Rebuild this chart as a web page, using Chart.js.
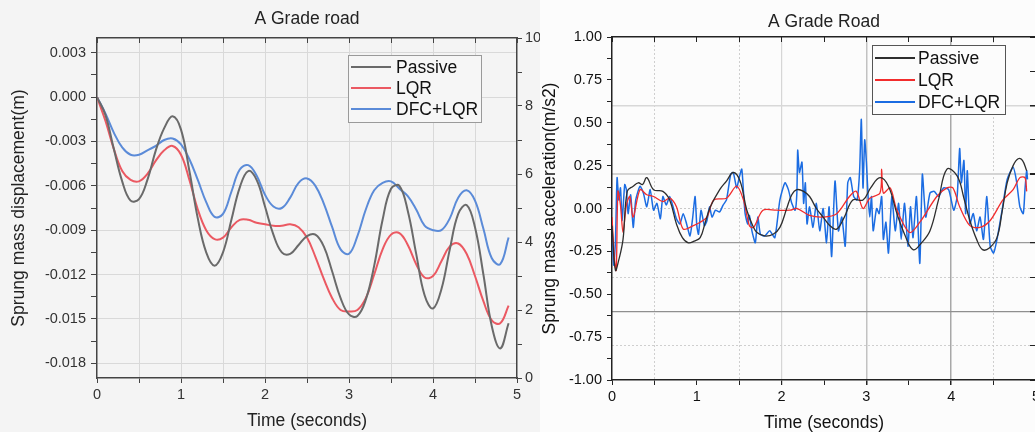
<!DOCTYPE html>
<html>
<head>
<meta charset="utf-8">
<script src="https://cdn.jsdelivr.net/npm/chart.js@4.4.1/dist/chart.umd.min.js"></script>
<style>
  html, body { margin: 0; padding: 0; width: 1035px; height: 432px; overflow: hidden; background: #fff; }
  canvas { display: block; }
  #leftBox { position: absolute; left: 0; top: 0; width: 541px; height: 432px; overflow: hidden; background: #f4f4f4; }
  #rightBox { position: absolute; left: 540px; top: 0; width: 495px; height: 432px; overflow: hidden; background: #fcfcfc; }
</style>
</head>
<body>
<div id="leftBox"><canvas id="dispChart" width="545" height="432"></canvas></div>
<div id="rightBox"><canvas id="accChart" width="533" height="434"></canvas></div>
<script>
const FONT = "'Liberation Sans', Arial, sans-serif";
Chart.defaults.font.family = FONT;

// ---- left panel: sprung mass displacement (m), sampled every 0.1 s
const dispTime = [0, 0.1, 0.2, 0.3, 0.4, 0.5, 0.6, 0.7, 0.8, 0.9,
  1.0, 1.1, 1.2, 1.3, 1.4, 1.5, 1.6, 1.7, 1.8, 1.9,
  2.0, 2.1, 2.2, 2.3, 2.4, 2.5, 2.6, 2.7, 2.8, 2.9,
  3.0, 3.1, 3.2, 3.3, 3.4, 3.5, 3.6, 3.7, 3.8, 3.9,
  4.0, 4.1, 4.2, 4.3, 4.4, 4.5, 4.6, 4.7, 4.8, 4.9];
const dispPassive = [0, -0.0012, -0.0035, -0.0057, -0.0070, -0.0069, -0.0056, -0.0036, -0.0021, -0.0013,
  -0.0022, -0.0050, -0.0082, -0.0105, -0.0114, -0.0105, -0.0083, -0.0061, -0.0050, -0.0056,
  -0.0074, -0.0093, -0.0105, -0.0106, -0.0100, -0.0094, -0.0093, -0.0101, -0.0118, -0.0136,
  -0.0147, -0.0148, -0.0137, -0.0114, -0.0083, -0.0062, -0.0060, -0.0077, -0.0106, -0.0134,
  -0.0143, -0.0130, -0.0103, -0.0079, -0.0073, -0.0088, -0.0120, -0.0155, -0.0170, -0.0153];
const dispLQR = [0, -0.0016, -0.0035, -0.0050, -0.0056, -0.0057, -0.0052, -0.0043, -0.0036, -0.0033,
  -0.0039, -0.0056, -0.0076, -0.0090, -0.0096, -0.0095, -0.0088, -0.0083, -0.0083, -0.0085,
  -0.0086, -0.0087, -0.0087, -0.0086, -0.0088, -0.0095, -0.0108, -0.0123, -0.0136, -0.0144,
  -0.0145, -0.0144, -0.0136, -0.0120, -0.0103, -0.0093, -0.0092, -0.0100, -0.0113, -0.0122,
  -0.0121, -0.0111, -0.0101, -0.0099, -0.0106, -0.0121, -0.0138, -0.0151, -0.0153, -0.0141];
const dispDFC = [0, -0.0011, -0.0024, -0.0034, -0.0039, -0.0039, -0.0036, -0.0033, -0.0029, -0.0028,
  -0.0032, -0.0042, -0.0056, -0.0071, -0.0081, -0.0079, -0.0064, -0.0049, -0.0046, -0.0053,
  -0.0066, -0.0074, -0.0075, -0.0068, -0.0058, -0.0055, -0.0060, -0.0072, -0.0088, -0.0103,
  -0.0106, -0.0094, -0.0076, -0.0063, -0.0058, -0.0057, -0.0062, -0.0067, -0.0076, -0.0087,
  -0.0090, -0.0090, -0.0082, -0.0068, -0.0063, -0.0070, -0.0089, -0.0109, -0.0113, -0.0095];
const dispYTicks = [-0.018, -0.0165, -0.015, -0.0135, -0.012, -0.0105, -0.009, -0.0075,
  -0.006, -0.0045, -0.003, -0.0015, 0, 0.0015, 0.003];

// ---- right panel: sprung mass acceleration (m/s2)
const accPassiveTime = [0, 0.04, 0.08, 0.13, 0.18, 0.25, 0.31, 0.36, 0.41, 0.49,
  0.60, 0.68, 0.76, 0.83, 0.90, 0.97, 1.04, 1.10, 1.16, 1.27,
  1.35, 1.43, 1.51, 1.59, 1.66, 1.71, 1.80, 1.90, 1.98, 2.06,
  2.12, 2.18, 2.26, 2.33, 2.41, 2.49, 2.57, 2.65, 2.74, 2.84,
  2.96, 3.05, 3.16, 3.26, 3.36, 3.45, 3.55, 3.65, 3.75, 3.85,
  3.95, 4.07, 4.15, 4.22, 4.30, 4.37, 4.45, 4.54, 4.60, 4.66,
  4.73, 4.79, 4.84, 4.89];
const accPassive = [-0.10, -0.36, -0.30, -0.18, 0.10, 0.13, 0.15, 0.14, 0.18, 0.11,
  0.10, 0.05, -0.09, -0.17, -0.20, -0.19, -0.17, -0.08, 0.01, 0.11,
  0.16, 0.21, 0.16, -0.01, -0.10, -0.14, -0.16, -0.15, -0.11, 0.00,
  0.08, 0.11, 0.10, 0.07, 0.00, -0.05, -0.10, -0.12, -0.05, 0.05,
  0.05, 0.12, 0.18, 0.13, -0.03, -0.15, -0.24, -0.20, -0.13, 0.05,
  0.23, 0.19, 0.06, -0.07, -0.18, -0.24, -0.23, -0.17, -0.02, 0.15,
  0.25, 0.29, 0.28, 0.22];

const accLQRTime = [0, 0.03, 0.05, 0.07, 0.10, 0.13, 0.17, 0.21, 0.25, 0.33,
  0.41, 0.49, 0.60, 0.68, 0.76, 0.84, 0.96, 1.04, 1.12, 1.20,
  1.35, 1.47, 1.55, 1.62, 1.67, 1.78, 1.94, 2.10, 2.18, 2.33,
  2.49, 2.65, 2.80, 2.88, 2.96, 3.04, 3.16, 3.18, 3.20, 3.28,
  3.36, 3.51, 3.63, 3.83, 3.95, 4.02, 4.10, 4.22, 4.34, 4.46,
  4.61, 4.73, 4.81, 4.87, 4.89];
const accLQR = [-0.05, -0.30, -0.36, 0.10, 0.02, -0.14, 0.02, 0.07, -0.05, 0.11,
  0.08, 0.07, 0.04, 0.06, 0.01, -0.12, -0.10, -0.08, -0.05, 0.05,
  0.06, 0.13, 0.05, -0.10, -0.11, -0.01, -0.01, -0.01, 0.00, -0.04,
  -0.05, -0.03, 0.07, 0.10, 0.00, 0.06, 0.09, 0.23, 0.09, 0.12,
  -0.01, -0.14, -0.08, 0.07, 0.12, 0.12, 0.01, -0.10, -0.11, -0.07,
  0.05, 0.11, 0.18, 0.18, 0.10];

const accDFCTime = [0, 0.02, 0.04, 0.06, 0.08, 0.10, 0.12, 0.15, 0.17, 0.19,
  0.22, 0.25, 0.28, 0.33, 0.37, 0.41, 0.45, 0.49, 0.53, 0.57,
  0.60, 0.64, 0.68, 0.72, 0.76, 0.80, 0.84, 0.88, 0.92, 0.95,
  0.98, 1.00, 1.02, 1.05, 1.09, 1.12, 1.15, 1.18, 1.22, 1.27,
  1.31, 1.35, 1.40, 1.43, 1.47, 1.50, 1.53, 1.55, 1.57, 1.60,
  1.62, 1.65, 1.69, 1.72, 1.75, 1.80, 1.86, 1.92, 1.98, 2.04,
  2.08, 2.12, 2.16, 2.18, 2.19, 2.21, 2.24, 2.26, 2.28, 2.30,
  2.33, 2.37, 2.41, 2.45, 2.49, 2.53, 2.56, 2.59, 2.63, 2.67,
  2.71, 2.75, 2.78, 2.81, 2.85, 2.89, 2.92, 2.94, 2.96, 2.98,
  3.00, 3.02, 3.04, 3.06, 3.08, 3.12, 3.15, 3.18, 3.20, 3.23,
  3.26, 3.30, 3.34, 3.38, 3.41, 3.45, 3.49, 3.52, 3.55, 3.59,
  3.63, 3.66, 3.70, 3.75, 3.80, 3.85, 3.91, 3.97, 4.03, 4.07,
  4.10, 4.12, 4.15, 4.17, 4.19, 4.22, 4.26, 4.30, 4.34, 4.38,
  4.42, 4.46, 4.50, 4.54, 4.60, 4.66, 4.73, 4.77, 4.81, 4.85,
  4.87, 4.89, 4.90];
const accDFC = [-0.10, -0.33, -0.20, 0.18, 0.05, 0.12, -0.07, 0.14, 0.11, -0.03,
  0.08, -0.11, 0.05, 0.13, 0.09, 0.01, 0.11, -0.01, 0.03, -0.06,
  0.07, 0.02, 0.07, 0.01, -0.06, -0.09, -0.03, -0.09, -0.16, -0.06,
  0.07, -0.10, -0.15, -0.01, -0.10, -0.07, 0.01, -0.05, -0.01, -0.02,
  0.02, 0.05, 0.20, 0.21, 0.12, 0.18, 0.23, 0.10, -0.03, -0.09,
  -0.04, -0.13, -0.20, -0.05, -0.15, -0.16, -0.13, -0.17, 0.05, 0.15,
  0.11, 0.03, -0.01, 0.09, 0.34, 0.21, 0.27, 0.03, 0.15, -0.09,
  0.01, -0.11, 0.03, -0.13, 0.00, -0.20, 0.01, -0.28, 0.16, -0.13,
  -0.05, -0.22, 0.15, 0.18, 0.07, 0.05, 0.22, 0.52, 0.12, 0.40,
  0.27, 0.07, -0.05, 0.07, -0.13, 0.00, -0.03, 0.07, -0.18, -0.08,
  -0.26, 0.07, -0.13, 0.03, -0.18, 0.03, -0.22, 0.01, -0.17, 0.07,
  -0.32, 0.20, -0.05, 0.09, 0.10, 0.07, 0.12, 0.11, -0.01, 0.07,
  0.35, 0.15, 0.28, -0.03, 0.22, -0.09, -0.03, -0.13, -0.05, -0.18,
  0.07, -0.22, -0.26, -0.18, -0.01, 0.17, 0.24, 0.16, 0.01, -0.03,
  0.11, 0.22, 0.17];
const accYTicks = [-1, -0.875, -0.75, -0.625, -0.5, -0.375, -0.25, -0.125, 0,
  0.125, 0.25, 0.375, 0.5, 0.625, 0.75, 0.875, 1];

const timeTicks = [0, 0.5, 1, 1.5, 2, 2.5, 3, 3.5, 4, 4.5, 5];
const sideTicks = [0, 1, 2, 3, 4, 5, 6, 7, 8, 9, 10];
const seriesNames = ['Passive', 'LQR', 'DFC+LQR'];

const pairs = (xs, ys) => xs.map((x, i) => ({ x: x, y: ys[i] }));
const useTicks = list => scale => { scale.ticks = list.map(v => ({ value: v })); };
const clear = 'rgba(0,0,0,0)';
const tickFont = { family: FONT, size: 14.5 };
const labelFont = { family: FONT, size: 17.5 };

// title above the plot and a boxed legend, drawn on the canvas
function decor(cfg) {
  return {
    id: 'decor',
    afterDraw(chart) {
      const { ctx, chartArea } = chart;
      ctx.save();
      ctx.font = '17.5px ' + FONT;
      ctx.fillStyle = '#222';
      ctx.textAlign = 'center';
      ctx.textBaseline = 'middle';
      ctx.fillText(cfg.title, (chartArea.left + chartArea.right) / 2, cfg.titleY);

      const L = cfg.legend;
      ctx.fillStyle = L.fill;
      ctx.fillRect(L.x, L.y, L.w, L.h);
      ctx.strokeStyle = L.edge;
      ctx.lineWidth = 1;
      ctx.strokeRect(L.x + 0.5, L.y + 0.5, L.w, L.h);
      ctx.textAlign = 'left';
      chart.data.datasets.forEach((ds, i) => {
        const y = L.y + L.first + i * L.gap;
        ctx.strokeStyle = ds.borderColor;
        ctx.lineWidth = 2;
        ctx.beginPath();
        ctx.moveTo(L.x + 3, y);
        ctx.lineTo(L.x + 3 + L.sample, y);
        ctx.stroke();
        ctx.fillStyle = '#111';
        ctx.fillText(ds.label, L.x + L.textX, y + 1);
      });
      ctx.restore();
    }
  };
}

// ---------------- left chart
new Chart(document.getElementById('dispChart'), {
  type: 'line',
  data: {
    datasets: [
      { label: seriesNames[0], data: pairs(dispTime, dispPassive), borderColor: '#6a6a6a' },
      { label: seriesNames[1], data: pairs(dispTime, dispLQR), borderColor: '#eb5962' },
      { label: seriesNames[2], data: pairs(dispTime, dispDFC), borderColor: '#5b8bd8' }
    ]
  },
  options: {
    responsive: false,
    animation: false,
    devicePixelRatio: 1,
    layout: { padding: { top: 38 } },
    elements: { point: { radius: 0 }, line: { borderWidth: 2, tension: 0.4 } },
    plugins: { legend: { display: false }, tooltip: { enabled: false } },
    scales: {
      x: {
        type: 'linear', position: 'bottom', min: 0, max: 5,
        afterBuildTicks: useTicks(timeTicks),
        afterFit: s => { s.height = 54; },
        ticks: { font: tickFont, color: '#333', padding: 3, maxRotation: 0, autoSkip: false,
          callback: v => Number.isInteger(v) ? String(v) : '' },
        grid: { color: c => (c.tick.value > 0 && c.tick.value < 5) ? '#d9d9d9' : clear,
          tickColor: '#444', tickLength: 5 },
        border: { color: '#444', width: 1.5 },
        title: { display: true, text: 'Time (seconds)', font: labelFont, color: '#222', padding: 0 }
      },
      xTop: {
        type: 'linear', position: 'top', min: 0, max: 5,
        afterBuildTicks: useTicks(timeTicks),
        afterFit: s => { s.height = 0; },
        ticks: { display: false },
        grid: { drawOnChartArea: false, tickColor: '#444', tickLength: -5 },
        border: { color: '#444', width: 1.5 }
      },
      y: {
        type: 'linear', position: 'left', min: -0.019, max: 0.004,
        afterBuildTicks: useTicks(dispYTicks),
        afterFit: s => { s.width = 97; },
        ticks: { font: tickFont, color: '#333', padding: 5, autoSkip: false,
          callback: v => (Math.round(v / 0.0015) % 2 === 0) ? v.toFixed(3) : '' },
        grid: { color: c => (Math.round(c.tick.value / 0.0015) % 2 === 0) ? '#d9d9d9' : clear,
          tickColor: '#444', tickLength: 6 },
        border: { color: '#444', width: 1.5 },
        title: { display: true, text: 'Sprung mass displacement(m)', font: labelFont, color: '#222',
          padding: { top: 9, bottom: 0 } }
      },
      ySide: {
        type: 'linear', position: 'right', min: 0, max: 10,
        afterBuildTicks: useTicks(sideTicks),
        afterFit: s => { s.width = 28; },
        ticks: { font: tickFont, color: '#333', padding: 3, autoSkip: false,
          callback: v => v % 2 === 0 ? String(v) : '' },
        grid: { drawOnChartArea: false, tickColor: '#444', tickLength: 5 },
        border: { color: '#444', width: 1.5 }
      }
    }
  },
  plugins: [decor({
    title: 'A Grade road', titleY: 19,
    legend: { x: 348, y: 55, w: 133, h: 67, first: 12, gap: 21, sample: 40, textX: 48,
      fill: '#f6f6f6', edge: '#9a9a9a' }
  })]
});

// ---------------- right chart
const sideGrid = {
  1: { color: '#cfcfcf', width: 1, dash: [2, 2] },
  2: { color: '#8f8f8f', width: 1.2, dash: [] },
  3: { color: '#cfcfcf', width: 1, dash: [2, 2] },
  4: { color: '#9a9a9a', width: 1.2, dash: [] },
  5: { color: '#c8c8c8', width: 1, dash: [2, 2] },
  6: { color: '#d4d4d4', width: 2, dash: [] },
  8: { color: '#d8d8d8', width: 1.5, dash: [] }
};
const timeGrid = {
  0.5: { color: '#cfcfcf', width: 1, dash: [2, 2] },
  1.5: { color: '#cfcfcf', width: 1, dash: [2, 2] },
  2: { color: '#d6d6d6', width: 1.2, dash: [] },
  3: { color: '#c2c2c2', width: 1.5, dash: [] },
  4: { color: '#a8a8a8', width: 1.5, dash: [] },
  4.5: { color: '#cfcfcf', width: 1, dash: [2, 2] }
};
const gridStyle = (table, key) => c => {
  if (!c.tick) return key === 'dash' ? [] : undefined;
  const s = table[c.tick.value];
  if (!s) return key === 'color' ? clear : (key === 'dash' ? [] : 1);
  return s[key];
};

new Chart(document.getElementById('accChart'), {
  type: 'line',
  data: {
    datasets: [
      { label: seriesNames[0], data: pairs(accPassiveTime, accPassive), borderColor: '#2e2e2e',
        borderWidth: 1.3, tension: 0.4 },
      { label: seriesNames[1], data: pairs(accLQRTime, accLQR), borderColor: '#f22c2c',
        borderWidth: 1.3, tension: 0.3 },
      { label: seriesNames[2], data: pairs(accDFCTime, accDFC), borderColor: '#1b6ce2',
        borderWidth: 1.5, tension: 0.2 }
    ]
  },
  options: {
    responsive: false,
    animation: false,
    devicePixelRatio: 1,
    layout: { padding: { top: 37 } },
    elements: { point: { radius: 0 } },
    plugins: { legend: { display: false }, tooltip: { enabled: false } },
    scales: {
      x: {
        type: 'linear', position: 'bottom', min: 0, max: 5,
        afterBuildTicks: useTicks(timeTicks),
        afterFit: s => { s.height = 54; },
        ticks: { font: tickFont, color: '#111', padding: 3, maxRotation: 0, autoSkip: false,
          callback: v => Number.isInteger(v) ? String(v) : '' },
        grid: { color: gridStyle(timeGrid, 'color'), lineWidth: gridStyle(timeGrid, 'width'),
          tickColor: '#222', tickLength: 5 },
        border: { color: '#222', width: 1.5, dash: gridStyle(timeGrid, 'dash') },
        title: { display: true, text: 'Time (seconds)', font: labelFont, color: '#111', padding: 0 }
      },
      xTop: {
        type: 'linear', position: 'top', min: 0, max: 5,
        afterBuildTicks: useTicks(timeTicks),
        afterFit: s => { s.height = 0; },
        ticks: { display: false },
        grid: { drawOnChartArea: false, tickColor: '#222', tickLength: -5 },
        border: { color: '#222', width: 1.5 }
      },
      y: {
        type: 'linear', position: 'left', min: -1, max: 1,
        afterBuildTicks: useTicks(accYTicks),
        afterFit: s => { s.width = 72; },
        ticks: { font: tickFont, color: '#111', padding: 5, autoSkip: false,
          callback: v => (Math.round(v / 0.125) % 2 === 0) ? v.toFixed(2) : '' },
        grid: { drawOnChartArea: false, tickColor: '#222', tickLength: 5 },
        border: { color: '#222', width: 1.5 },
        title: { display: true, text: 'Sprung mass acceleration(m/s2)', font: labelFont, color: '#111',
          padding: { top: 0, bottom: 0 } }
      },
      ySide: {
        type: 'linear', position: 'right', min: 0, max: 10,
        afterBuildTicks: useTicks(sideTicks),
        afterFit: s => { s.width = 37; },
        ticks: { display: false },
        grid: { color: gridStyle(sideGrid, 'color'), lineWidth: gridStyle(sideGrid, 'width'),
          tickColor: '#222', tickLength: -6 },
        border: { color: '#222', width: 1.5, dash: gridStyle(sideGrid, 'dash') }
      }
    }
  },
  plugins: [decor({
    title: 'A Grade Road', titleY: 22,
    legend: { x: 332, y: 45, w: 133, h: 69, first: 13, gap: 22, sample: 40, textX: 46,
      fill: '#fcfcfc', edge: '#555' }
  })]
});
</script>
</body>
</html>
